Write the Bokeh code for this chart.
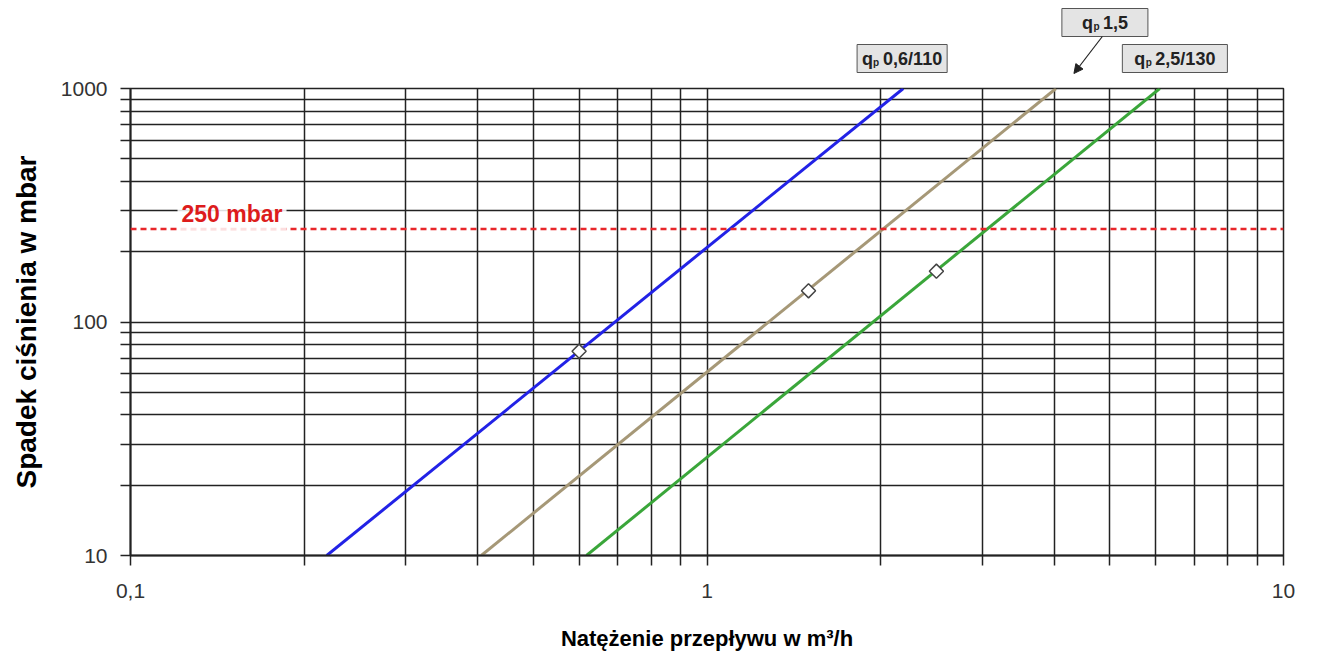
import math
from bokeh.plotting import figure
from bokeh.layouts import column
from bokeh.models import (FixedTicker, CustomJSTickFormatter, Span, Label, Arrow,
                          NormalHead, Range1d)
from bokeh.embed import file_html
from bokeh.resources import INLINE

# ---- data ----
x_major = [0.1, 1, 10]
x_minor = [0.2, 0.3, 0.4, 0.5, 0.6, 0.7, 0.8, 0.9, 2, 3, 4, 5, 6, 7, 8, 9]
y_major = [10, 100, 1000]
y_minor = [20, 30, 40, 50, 60, 70, 80, 90, 200, 300, 400, 500, 600, 700, 800, 900]

q_blue = [0.219, 2.19]
dp_blue = [10, 1000]
q_tan = [0.406, 4.03]
dp_tan = [10, 1000]
q_green = [0.618, 6.1]
dp_green = [10, 1000]

marker_q = [0.6, 1.5, 2.5]
marker_dp = [75, 136, 165]

limit_mbar = 250

names = ["0,6/110", "1,5", "2,5/130"]

W = 1310
LEFT, RIGHT = 130, 27
TOP_H = 74
NB = "\u00a0"

# ---- main figure ----
p = figure(width=W, height=654 - TOP_H, x_axis_type="log", y_axis_type="log",
           x_range=(0.1, 10), y_range=(10, 1000),
           output_backend="svg", toolbar_location=None,
           min_border_left=LEFT, min_border_right=RIGHT,
           min_border_top=14, min_border_bottom=99)
p.background_fill_color = "white"
p.border_fill_color = "white"
p.outline_line_color = "#222222"
p.outline_line_width = 1.5

p.xaxis.ticker = FixedTicker(ticks=x_major, minor_ticks=x_minor)
p.yaxis.ticker = FixedTicker(ticks=y_major, minor_ticks=y_minor)
p.xaxis.formatter = CustomJSTickFormatter(code="return String(tick).replace('.', ',');")
p.yaxis.formatter = CustomJSTickFormatter(code="return String(tick);")

for ax in (p.xaxis, p.yaxis):
    ax.axis_line_color = "#222222"
    ax.axis_line_width = 2
    ax.major_tick_in = 0
    ax.minor_tick_in = 0
    ax.major_tick_out = 10
    ax.minor_tick_out = 10
    ax.major_tick_line_color = "#222222"
    ax.minor_tick_line_color = "#222222"
    ax.major_tick_line_width = 1.5
    ax.minor_tick_line_width = 1.5
    ax.major_label_text_font = "Liberation Sans"
    ax.major_label_text_font_size = "21px"
    ax.major_label_text_color = "#333333"
    ax.axis_label_text_font = "Liberation Sans"
    ax.axis_label_text_font_style = "bold"
    ax.axis_label_text_color = "black"

p.xaxis.major_label_standoff = 18
p.yaxis.major_label_standoff = 13
p.xaxis.axis_label = "Natężenie przepływu w m³/h"
p.xaxis.axis_label_text_font_size = "22px"
p.xaxis.axis_label_standoff = 25
p.yaxis.axis_label = "Spadek ciśnienia w mbar"
p.yaxis.axis_label_text_font_size = "28px"
p.yaxis.axis_label_standoff = 16

for g in (p.xgrid, p.ygrid):
    g.grid_line_color = "#222222"
    g.grid_line_width = 1.5
    g.minor_grid_line_color = "#222222"
    g.minor_grid_line_width = 1.5

# ---- series ----
p.line(q_blue, dp_blue, line_color="#2222e6", line_width=3)
p.line(q_tan, dp_tan, line_color="#a69877", line_width=3)
p.line(q_green, dp_green, line_color="#3aa63a", line_width=3)
p.scatter(marker_q, marker_dp, marker="square", angle=math.pi / 4, size=10,
          fill_color="white", line_color="#444444", line_width=1.5)

# ---- 250 mbar limit ----
p.add_layout(Span(location=limit_mbar, dimension="width", line_color="#e8262a",
                  line_width=2.5, line_dash="6 4"))
p.add_layout(Label(x=0.150, y=291, text=f"{limit_mbar} mbar", text_align="center",
                   text_baseline="middle", text_font="Liberation Sans",
                   text_font_style="bold", text_font_size="23px", text_color="#dd1c1c",
                   background_fill_color="white", background_fill_alpha=0.85,
                   padding=4))

# ---- callout strip above the plot (shares the x scale) ----
top = figure(width=W, height=TOP_H, x_axis_type="log", x_range=p.x_range,
             y_range=Range1d(0, TOP_H), output_backend="svg", toolbar_location=None,
             x_axis_location=None, y_axis_location=None,
             min_border_left=LEFT, min_border_right=RIGHT,
             min_border_top=0, min_border_bottom=0)
top.grid.visible = False
top.outline_line_color = None
top.background_fill_color = "white"
top.border_fill_color = "white"

q_w = 11.0
boxes = [
    (2.18, 16, "q" + NB * 2 + names[0], 81.0, 5),
    (4.90, 52, "q" + NB * 2 + names[1], 46.0, 20),
    (6.48, 16, "q" + NB * 2 + names[2], 81.0, 12),
]
for bx, by, txt, w, padx in boxes:
    top.add_layout(Label(x=bx, y=by, text=txt, text_align="center", text_baseline="middle",
                         text_font="Liberation Sans", text_font_style="bold",
                         text_font_size="18px", text_color="#222222",
                         background_fill_color="#e4e4e4", background_fill_alpha=1,
                         border_line_color="#555555", border_line_width=1,
                         padding=(padx, 4)))
    top.add_layout(Label(x=bx, y=by, text="p", x_offset=-w / 2 + q_w + 0.5, y_offset=-4,
                         text_align="left", text_baseline="middle",
                         text_font="Liberation Sans", text_font_style="bold",
                         text_font_size="10px", text_color="#222222"))

top.add_layout(Arrow(x_start=4.85, y_start=38, x_end=4.33, y_end=1,
                     line_color="#222222", line_width=1.2,
                     end=NormalHead(size=9, fill_color="#222222", line_color="#222222")))

layout = column(top, p, spacing=0)
open("out.html", "w").write(file_html(layout, INLINE))
